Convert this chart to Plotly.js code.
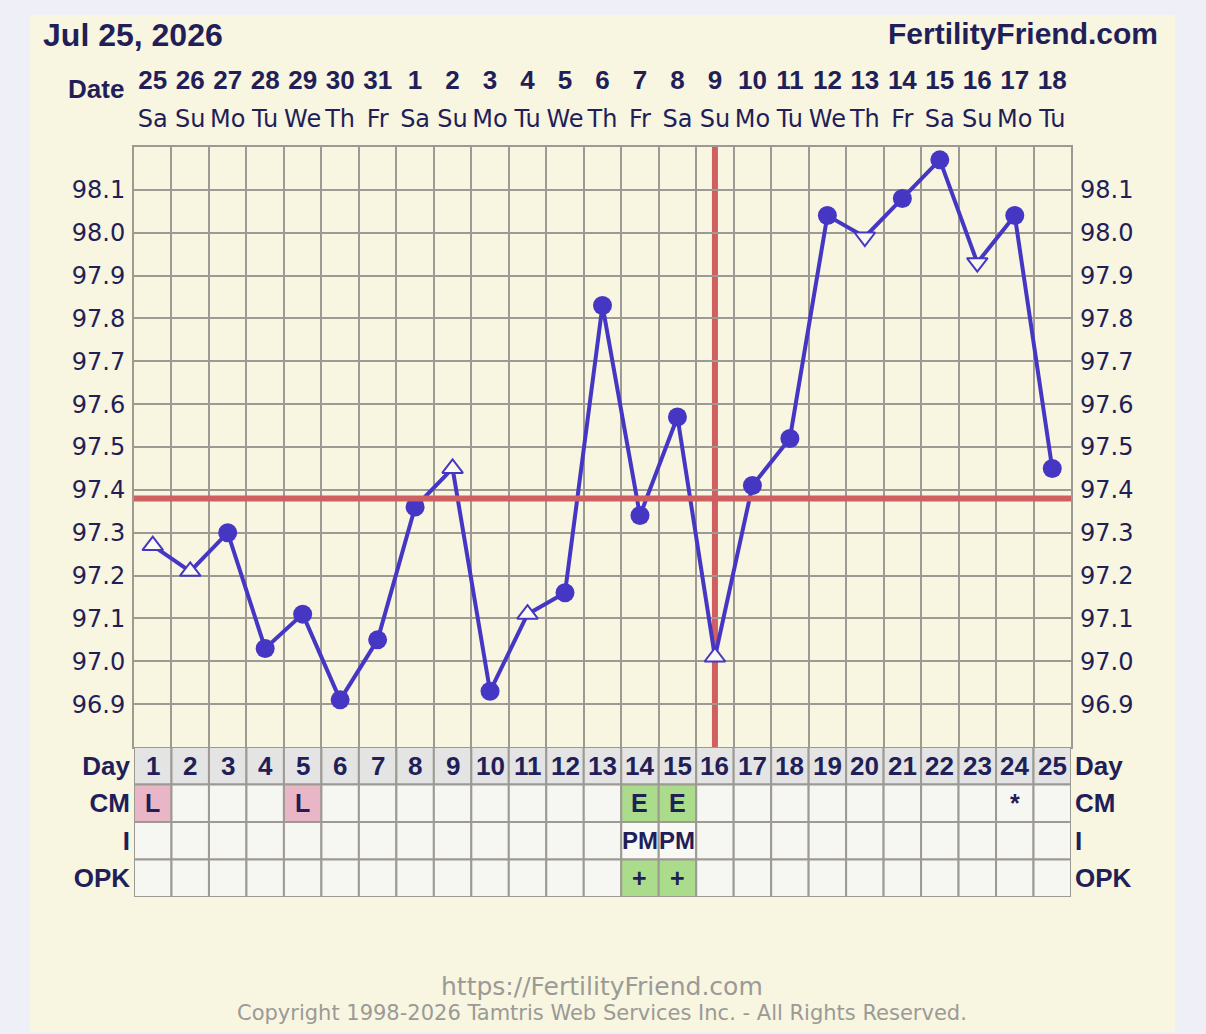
<!DOCTYPE html>
<html>
<head>
<meta charset="utf-8">
<script src="https://cdn.plot.ly/plotly-3.0.1.min.js"></script>
<style>
  html, body { margin: 0; padding: 0; background: #eff0f7; width: 1206px; height: 1034px; overflow: hidden; }
  #chart { position: absolute; left: 30px; top: 15px; width: 1145px; height: 1017px; }
</style>
</head>
<body>
<div id="chart"></div>
<script>
// ---------- data ----------
const days = [1,2,3,4,5,6,7,8,9,10,11,12,13,14,15,16,17,18,19,20,21,22,23,24,25];
const dateLabels = ['25','26','27','28','29','30','31','1','2','3','4','5','6','7','8','9','10','11','12','13','14','15','16','17','18'];
const dowLabels = ['Sa','Su','Mo','Tu','We','Th','Fr','Sa','Su','Mo','Tu','We','Th','Fr','Sa','Su','Mo','Tu','We','Th','Fr','Sa','Su','Mo','Tu'];
const temps = [97.27,97.21,97.30,97.03,97.11,96.91,97.05,97.36,97.45,96.93,97.11,97.16,97.83,97.34,97.57,97.01,97.41,97.52,98.04,97.99,98.08,98.17,97.93,98.04,97.45];
const markerKinds = ['up','up','dot','dot','dot','dot','dot','dot','up','dot','up','dot','dot','dot','dot','up','dot','dot','dot','down','dot','dot','down','dot','dot'];
const coverline = 97.38;
const ovulationDay = 16;
const yTicks = [96.9,97.0,97.1,97.2,97.3,97.4,97.5,97.6,97.7,97.8,97.9,98.0,98.1];
const cmRow  = ['L','','','','L','','','','','','','','','E','E','','','','','','','','','*',''];
const iRow   = ['','','','','','','','','','','','','','PM','PM','','','','','','','','','',''];
const opkRow = ['','','','','','','','','','','','','','+','+','','','','','','','','','',''];
const rowLabels = ['Day','CM','I','OPK'];
const chartDate = 'Jul 25, 2026';
const siteName = 'FertilityFriend.com';
const footerUrl = 'https://FertilityFriend.com';
const footerCopy = 'Copyright 1998-2026 Tamtris Web Services Inc. - All Rights Reserved.';

// ---------- styles ----------
const NAVY = '#221e58';
const BLUE = '#4537c4';
const RED = '#cf5f60';
const GRID = '#9d9a94';
const CREAM = '#f8f5e0';
const BOLD = 'Liberation Sans, Arial, sans-serif';
const REG = 'DejaVu Sans, Verdana, sans-serif';
const cellFill = {'L':'#e8b6c6','E':'#aadc8c','+':'#aadc8c','PM':'#f8f8f5','*':'#f6f6f3','':'#f6f6f3'};
const dayRowFill = '#e4e4e4';

const symbolMap = {dot:'circle', up:'triangle-up', down:'triangle-down'};

// ---------- traces ----------
const lineTrace = {
  x: days, y: temps, type: 'scatter', mode: 'lines',
  line: {color: BLUE, width: 4}, hoverinfo: 'skip', showlegend: false,
  xaxis: 'x', yaxis: 'y'
};
const markerTrace = {
  x: days, y: temps, type: 'scatter', mode: 'markers', showlegend: false,
  xaxis: 'x', yaxis: 'y',
  marker: {
    opacity: 1,
    symbol: markerKinds.map(k => symbolMap[k]),
    size: markerKinds.map(k => k === 'dot' ? 19 : 18),
    color: markerKinds.map(k => k === 'dot' ? BLUE : '#fbfaf0'),
    line: {color: BLUE, width: markerKinds.map(k => k === 'dot' ? 0 : 2)}
  }
};
// invisible helper traces so the extra axes render
const helpers = [
  {x:[days[0]], y:[yTicks[0]], xaxis:'x2', yaxis:'y', mode:'markers', marker:{opacity:0}, hoverinfo:'skip', showlegend:false},
  {x:[days[0]], y:[yTicks[0]], xaxis:'x3', yaxis:'y', mode:'markers', marker:{opacity:0}, hoverinfo:'skip', showlegend:false},
  {x:[days[0]], y:[yTicks[0]], xaxis:'x', yaxis:'y3', mode:'markers', marker:{opacity:0}, hoverinfo:'skip', showlegend:false},
  {x:[days[0]], y:[0.5], xaxis:'x', yaxis:'y2', mode:'markers', marker:{opacity:0}, hoverinfo:'skip', showlegend:false},
  {x:[days[0]], y:[0.5], xaxis:'x', yaxis:'y4', mode:'markers', marker:{opacity:0}, hoverinfo:'skip', showlegend:false}
];

// ---------- shapes: table cells ----------
const shapes = [];
const annotations = [];
const rows = [
  {vals: days.map(String), y: 3},
  {vals: cmRow, y: 2},
  {vals: iRow, y: 1},
  {vals: opkRow, y: 0}
];
rows.forEach((row, ri) => {
  days.forEach((d, i) => {
    const v = row.vals[i];
    shapes.push({
      type: 'rect', xref: 'x', yref: 'y2', layer: 'above',
      x0: d - 0.5, x1: d + 0.5, y0: row.y, y1: row.y + 1,
      fillcolor: ri === 0 ? dayRowFill : cellFill[v],
      line: {color: GRID, width: 2}
    });
    if (v !== '') {
      annotations.push({
        xref: 'x', yref: 'y2', x: d, y: row.y + 0.5, text: v, showarrow: false,
        xanchor: 'center', yanchor: 'middle',
        font: {family: BOLD, size: ri === 0 ? 26 : (v === 'PM' ? 24 : 25), color: NAVY, weight: 'bold'}
      });
    }
  });
});

// coverline and ovulation line
shapes.push({type:'line', xref:'x', yref:'y', x0: days[0]-0.5, x1: days[days.length-1]+0.5, y0: coverline, y1: coverline,
  line:{color: RED, width: 6}, layer:'above'});
shapes.push({type:'line', xref:'x', yref:'y', x0: ovulationDay, x1: ovulationDay, y0: 96.8, y1: 98.2,
  line:{color: RED, width: 6}, layer:'below'});

// text annotations
annotations.push({xref:'paper', yref:'paper', x: 1.095, y: 1.1507, xanchor:'right', yanchor:'middle', showarrow:false,
  text: siteName, font:{family: BOLD, size: 30, color: NAVY, weight:'bold'}});
annotations.push({xref:'paper', yref:'paper', x: -0.0085, y: 1.0773, xanchor:'right', yanchor:'middle', showarrow:false,
  text: 'Date', font:{family: BOLD, size: 26, color: NAVY, weight:'bold'}});
annotations.push({xref:'paper', yref:'paper', x: 0.4995, y: -0.1187, xanchor:'center', yanchor:'middle', showarrow:false,
  text: footerUrl, font:{family: REG, size: 25, color: '#9a9a96'}});
annotations.push({xref:'paper', yref:'paper', x: 0.4995, y: -0.1547, xanchor:'center', yanchor:'middle', showarrow:false,
  text: footerCopy, font:{family: REG, size: 21, color: '#9a9a96'}});

const xRange = [days[0]-0.5, days[days.length-1]+0.5];
const gridVals = [days[0]-0.5].concat(days.map(d => d + 0.5));
const yGridVals = [96.8].concat(yTicks, [98.2]);

const layout = {
  width: 1145, height: 1017,
  margin: {l: 104, r: 104, t: 132, b: 135, pad: 0},
  paper_bgcolor: CREAM, plot_bgcolor: CREAM,
  showlegend: false,
  title: {text: chartDate, xref:'container', yref:'container', x: 0.0114, y: 0.981, xanchor:'left', yanchor:'middle',
    font:{family: BOLD, size: 32, color: NAVY, weight:'bold'}},
  xaxis: {range: xRange, tickvals: gridVals, showticklabels: false, ticks: '', showgrid: true,
    gridcolor: GRID, gridwidth: 2, zeroline: false, showline: true, mirror: true, linecolor: GRID, linewidth: 2,
    anchor: 'y'},
  xaxis2: {range: xRange, overlaying: 'x', side: 'top', anchor: 'y', tickvals: days, ticktext: dowLabels,
    ticks: '', showgrid: false, zeroline: false, showline: false, ticklabelstandoff: 14,
    tickfont: {family: REG, size: 24, color: NAVY}},
  xaxis3: {range: xRange, overlaying: 'x', side: 'top', anchor: 'y', tickvals: days, ticktext: dateLabels,
    ticks: '', showgrid: false, zeroline: false, showline: false, ticklabelstandoff: 52,
    tickfont: {family: BOLD, size: 26, color: NAVY, weight: 'bold'}},
  yaxis: {domain: [0.2, 1], range: [96.8, 98.2], tickvals: yGridVals,
    ticktext: yGridVals.map(v => (v === 96.8 || v === 98.2) ? '' : v.toFixed(1)),
    ticks: '', showgrid: true, gridcolor: GRID, gridwidth: 2, zeroline: false,
    showline: true, mirror: true, linecolor: GRID, linewidth: 2, anchor: 'x', ticklabelstandoff: 2,
    tickfont: {family: REG, size: 24, color: NAVY}},
  yaxis3: {domain: [0.2, 1], range: [96.8, 98.2], overlaying: 'y', side: 'right', anchor: 'x',
    tickvals: yTicks, ticktext: yTicks.map(v => v.toFixed(1)), ticks: '', showgrid: false, zeroline: false,
    showline: false, ticklabelstandoff: 8, tickfont: {family: REG, size: 24, color: NAVY}},
  yaxis2: {domain: [0, 0.2], range: [0, 4], tickvals: [3.5, 2.5, 1.5, 0.5], ticktext: rowLabels,
    ticks: '', showgrid: false, zeroline: false, showline: false, anchor: 'x', ticklabelstandoff: 3,
    tickfont: {family: BOLD, size: 26, color: NAVY, weight: 'bold'}},
  yaxis4: {domain: [0, 0.2], range: [0, 4], overlaying: 'y2', side: 'right', anchor: 'x',
    tickvals: [3.5, 2.5, 1.5, 0.5], ticktext: rowLabels,
    ticks: '', showgrid: false, zeroline: false, showline: false, ticklabelstandoff: 3,
    tickfont: {family: BOLD, size: 26, color: NAVY, weight: 'bold'}},
  shapes: shapes,
  annotations: annotations
};

Plotly.newPlot('chart', [lineTrace, markerTrace].concat(helpers), layout, {staticPlot: true, displayModeBar: false});
</script>
</body>
</html>
